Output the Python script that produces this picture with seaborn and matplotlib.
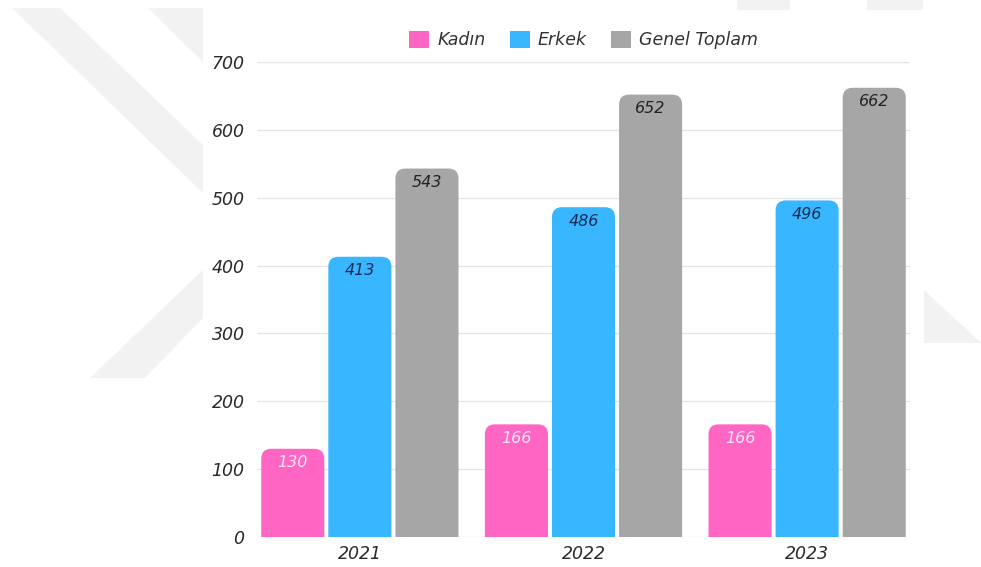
import matplotlib
matplotlib.use("Agg")
import matplotlib.pyplot as plt
from matplotlib.patches import FancyBboxPatch, Patch, Polygon
import seaborn as sns
import pandas as pd

years = ["2021", "2022", "2023"]
series = ["Kadın", "Erkek", "Genel Toplam"]
kadin = [130, 166, 166]
erkek = [413, 486, 496]
toplam = [543, 652, 662]
colors = ["#FF66C4", "#38B6FF", "#A6A6A6"]
label_colors = ["#FBE6F4", "#1B2D55", "#222222"]
yticks = [0, 100, 200, 300, 400, 500, 600, 700]

df = pd.DataFrame({
    "Yıl": years * 3,
    "Grup": [series[0]] * 3 + [series[1]] * 3 + [series[2]] * 3,
    "Değer": kadin + erkek + toplam,
})

sns.set_theme(style="white")
plt.rcParams["font.family"] = ["DejaVu Sans"]

W, H = 981, 567
fig = plt.figure(figsize=(W / 100, H / 100), dpi=100)
fig.patch.set_facecolor("white")

# faint watermark shapes in the page background (figure pixel coords)
wm = "#F2F2F2"
def fpoly(pts):
    p = Polygon([(x / W, 1 - y / H) for x, y in pts], closed=True,
                transform=fig.transFigure, facecolor=wm, edgecolor="none", zorder=0)
    fig.patches.append(p)

fpoly([(12, 8), (60, 8), (203, 145), (203, 193)])
fpoly([(148, 8), (203, 8), (203, 62)])
fpoly([(203, 270), (203, 318), (145, 378), (90, 378)])
fpoly([(924, 290), (981, 343), (924, 343)])
fpoly([(737, 0), (790, 0), (790, 10), (737, 10)])
fpoly([(867, 0), (923, 0), (923, 10), (867, 10)])

ax = fig.add_axes([257 / W, 1 - 537 / H, (910 - 257) / W, (537 - 62) / H])
ax.set_facecolor("white")
ax.set_zorder(1)

sns.barplot(data=df, x="Yıl", y="Değer", hue="Grup", order=years,
            hue_order=series, palette=colors, width=0.9, gap=0.06,
            saturation=1, ax=ax, legend=False, errorbar=None)

ax.set_xlim(-0.46, 2.46)
ax.set_ylim(0, 700)

# replace rectangles with top-rounded bars
ax.figure.canvas.draw()
px_per_x = (910 - 257) / 2.92
px_per_y = (537 - 62) / 700
r_px = 10
rx = r_px / px_per_x
aspect = (r_px / px_per_y) / rx
for ci, cont in enumerate(ax.containers):
    for patch in cont.patches:
        x0, w = patch.get_x(), patch.get_width()
        h = patch.get_height()
        fc = patch.get_facecolor()
        patch.set_visible(False)
        extra = r_px / px_per_y * 1.5
        fb = FancyBboxPatch((x0, -extra), w, h + extra,
                            boxstyle=f"round,pad=0,rounding_size={rx}",
                            mutation_aspect=aspect, facecolor=fc,
                            edgecolor="none", zorder=3, clip_on=True)
        ax.add_patch(fb)
        ax.annotate(f"{int(round(h))}", (x0 + w / 2, h), xytext=(0, -10),
                    textcoords="offset points", ha="center", va="center",
                    fontsize=11.5, style="italic", color=label_colors[ci],
                    zorder=5)

ax.set_yticks(yticks)
ax.yaxis.grid(True, color="#E4E4E4", linewidth=0.9)
ax.set_axisbelow(True)
for s in ax.spines.values():
    s.set_visible(False)
ax.tick_params(axis="both", length=0, labelsize=12.5, labelcolor="#2A2A2A")
ax.tick_params(axis="y", pad=9)
ax.tick_params(axis="x", pad=6)
for t in ax.get_xticklabels() + ax.get_yticklabels():
    t.set_style("italic")
ax.set_xlabel("")
ax.set_ylabel("")

handles = [Patch(facecolor=c, edgecolor="none", label=s) for c, s in zip(colors, series)]
leg = ax.legend(handles=handles, loc="center", bbox_to_anchor=(0.5, 1.046),
                ncol=3, frameon=False, handlelength=1.15, handleheight=1.15,
                handletextpad=0.45, columnspacing=1.4,
                prop={"size": 12.5, "style": "italic"})
for t in leg.get_texts():
    t.set_color("#333333")

fig.savefig("out.png", dpi=100, facecolor="white")
